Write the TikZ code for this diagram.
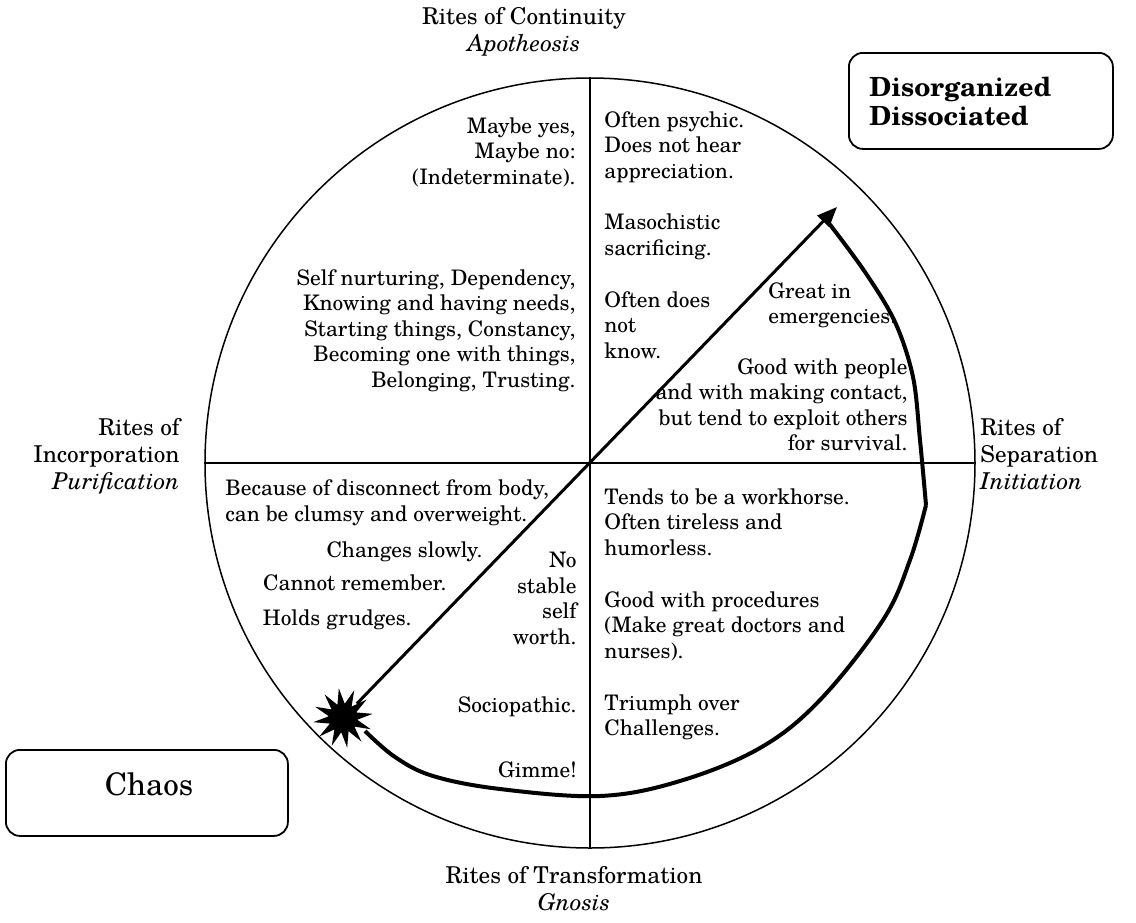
\documentclass[tikz,border=0pt]{standalone}
\usepackage{fontspec}
\setmainfont{TeX Gyre Schola}
\usetikzlibrary{arrows.meta,shapes.geometric}
\begin{document}
\begin{tikzpicture}[x=0.5pt,y=-0.5pt,
  body/.style={font=\fontsize{10.7}{12.75}\selectfont, inner sep=0pt},
  rites/.style={font=\fontsize{11.6}{13.5}\selectfont, inner sep=0pt},
  thinline/.style={line width=0.75pt},
  crossline/.style={line width=0.6pt},
  rbox/.style={draw, line width=0.9pt, rounded corners=7pt, inner sep=0pt},
  heavy/.style={line width=2pt, line join=round},
  pointer/.style={line width=1.5pt, -{Triangle[length=10pt,width=8pt]}}]
\useasboundingbox (0,0) rectangle (1136,922);
% circle and cross
\node[circle, draw, thinline, minimum size=385pt, inner sep=0pt] (circ) at (590,463) {};
\draw[crossline] (circ.north) -- (circ.south);
\draw[crossline] (circ.west) -- (circ.east);
% outer labels (anchor at baseline of last line)
\node[rites, align=center, anchor=base] (top) at (524,51) {Rites of Continuity\\\textit{Apotheosis}};
\node[rites, align=right, anchor=base east] (left) at (180,489) {Rites of\\Incorporation\\\textit{Purification}};
\node[rites, align=left, anchor=base west] (right) at (980,489) {Rites of\\Separation\\\textit{Initiation}};
\node[rites, align=center, anchor=base] (bottom) at (574,910) {Rites of Transformation\\\textit{Gnosis}};
% boxes
\node[rbox, minimum width=132pt, minimum height=48pt, anchor=north west] (disbox) at (848,52) {};
\node[font=\fontsize{13.2}{14.5}\selectfont\bfseries, inner sep=0pt, align=left, anchor=base west] (distext) at (869,125) {Disorganized\\Dissociated};
\node[rbox, minimum width=141pt, minimum height=43pt, anchor=north west] (chaosbox) at (5,749) {};
\node[font=\fontsize{15.5}{19}\selectfont, inner sep=0pt, anchor=base] (chaostext) at (149,795) {Chaos};
% top right quadrant
\node[body, align=left, anchor=base west] (tr1) at (604,178) {Often psychic.\\Does not hear\\appreciation.};
\node[body, align=left, anchor=base west] (tr2) at (604,255) {Masochistic\\sacrificing.};
\node[body, align=left, anchor=base west] (tr3) at (604,358) {Often does\\not\\know.};
\node[body, align=left, anchor=base west] (tr4) at (768,323.5) {Great in\\emergencies.};
\node[body, align=right, anchor=base east] (tr5) at (908,450.5) {Good with people\\and with making contact,\\but tend to exploit others\\for survival.};
% bottom right quadrant
\node[body, align=left, anchor=base west] (br1) at (604,555) {Tends to be a workhorse.\\Often tireless and\\humorless.};
\node[body, align=left, anchor=base west] (br2) at (604,658) {Good with procedures\\(Make great doctors and\\nurses).};
\node[body, align=left, anchor=base west] (br3) at (604,735.5) {Triumph over\\Challenges.};
% top left quadrant
\node[body, align=right, anchor=base east] (tl1) at (576,184) {Maybe yes,\\Maybe no:\\(Indeterminate).};
\node[body, align=right, anchor=base east] (tl2) at (576,387) {Self nurturing, Dependency,\\Knowing and having needs,\\Starting things, Constancy,\\Becoming one with things,\\Belonging, Trusting.};
% bottom left quadrant
\node[body, align=left, anchor=base west] (bl1) at (225,521) {Because of disconnect from body,\\can be clumsy and overweight.};
\node[body, anchor=base east] (bl2) at (483,557) {Changes slowly.};
\node[body, anchor=base east] (bl3) at (447,590) {Cannot remember.};
\node[body, anchor=base east] (bl4) at (412,625) {Holds grudges.};
\node[body, align=right, anchor=base east] (bl5) at (577,644) {No\\stable\\self\\worth.};
\node[body, anchor=base east] (bl6) at (577,712) {Sociopathic.};
\node[body, anchor=base east] (bl7) at (577,777) {Gimme!};
% burst and arrows
\node[star, star points=12, star point ratio=2.1, fill=black, minimum size=30pt, inner sep=0pt, rotate=8] (burst) at (343,718) {};
\coordinate (tip) at (837,207);
\draw[pointer] (burst) -- (tip);
\coordinate (curvestart) at (828,222);
\coordinate (kink) at (926,505);
\draw[heavy] plot[smooth, tension=0.55] coordinates {(828,222) (865,272) (895,322) (913,377) (920,440) (926,505)};
\draw[heavy] plot[smooth, tension=0.6] coordinates {(926,505) (910,560) (883,620) (820,700) (760,748) (680,781) (600,796) (500,789) (433,776) (395,757) (365,731)};
\end{tikzpicture}
\end{document}
